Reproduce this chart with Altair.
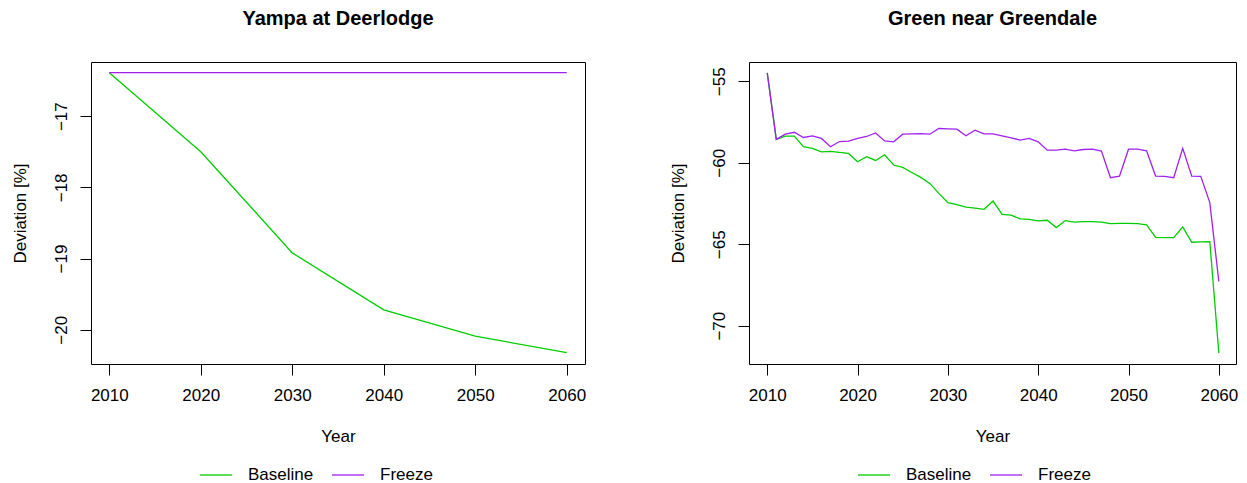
import altair as alt
import pandas as pd

FONT = "Liberation Sans"
GREEN = "#00CD00"
PURPLE = "#A020F0"

# ---- Left panel: Yampa at Deerlodge ----
left_years = [2010, 2020, 2030, 2040, 2050, 2060]
left_baseline = [-16.39, -17.50, -18.92, -19.72, -20.09, -20.32]
left_freeze = [-16.39, -16.39, -16.39, -16.39, -16.39, -16.39]

# ---- Right panel: Green near Greendale ----
right_years = list(range(2010, 2061))
right_baseline = [
    -54.49, -58.57, -58.37, -58.37, -59.02, -59.12, -59.33, -59.31, -59.37, -59.43,
    -59.94, -59.63, -59.86, -59.51, -60.14, -60.29, -60.60, -60.90, -61.27, -61.88,
    -62.45, -62.57, -62.72, -62.78, -62.86, -62.35, -63.17, -63.21, -63.45, -63.47,
    -63.57, -63.53, -63.98, -63.55, -63.65, -63.61, -63.61, -63.65, -63.74, -63.72,
    -63.72, -63.74, -63.82, -64.58, -64.60, -64.60, -63.94, -64.88, -64.86, -64.84,
    -71.68,
]
right_freeze = [
    -54.49, -58.57, -58.25, -58.13, -58.45, -58.35, -58.51, -59.02, -58.70, -58.68,
    -58.51, -58.39, -58.17, -58.66, -58.72, -58.25, -58.23, -58.21, -58.25, -57.90,
    -57.92, -57.94, -58.35, -58.00, -58.23, -58.23, -58.35, -58.47, -58.61, -58.51,
    -58.72, -59.23, -59.23, -59.17, -59.27, -59.19, -59.17, -59.29, -60.92, -60.82,
    -59.17, -59.17, -59.27, -60.82, -60.84, -60.92, -59.12, -60.82, -60.84, -62.45,
    -67.29,
]

series_names = ["Baseline", "Freeze"]
x_ticks = [2010, 2020, 2030, 2040, 2050, 2060]
left_yticks = [-17, -18, -19, -20]
right_yticks = [-55, -60, -65, -70]


def panel(years, base, freeze, title, xdomain, ydomain, yticks, width):
    df = pd.DataFrame({
        "Year": years + years,
        "Deviation": base + freeze,
        "Scenario": ["Baseline"] * len(years) + ["Freeze"] * len(years),
    })
    return alt.Chart(df).mark_line(strokeWidth=1.3).encode(
        x=alt.X("Year:Q",
                scale=alt.Scale(domain=xdomain, nice=False, zero=False),
                axis=alt.Axis(values=x_ticks, format="d", title="Year",
                              grid=False, domain=False, tickSize=11, tickColor="black",
                              labelFontSize=17, labelFont=FONT, labelColor="black",
                              labelPadding=12, titleFontSize=17, titleFont=FONT,
                              titleFontWeight="normal", titleColor="black",
                              titlePadding=25, labelFlush=False)),
        y=alt.Y("Deviation:Q",
                scale=alt.Scale(domain=ydomain, nice=False, zero=False),
                axis=alt.Axis(values=yticks, format="d", title="Deviation [%]",
                              grid=False, domain=False, tickSize=11, tickColor="black",
                              labelFontSize=17, labelFont=FONT, labelColor="black",
                              labelAngle=270, labelAlign="center", labelBaseline="alphabetic",
                              labelPadding=14, titleFontSize=17, titleFont=FONT,
                              titleFontWeight="normal", titleColor="black",
                              titlePadding=23, labelFlush=False)),
        color=alt.Color("Scenario:N",
                        scale=alt.Scale(domain=series_names, range=[GREEN, PURPLE]),
                        legend=alt.Legend(title=None, orient="none", legendX=108, legendY=396,
                                          direction="horizontal", symbolType="stroke",
                                          symbolSize=1024, symbolStrokeWidth=1.3,
                                          labelFontSize=17, labelFont=FONT, labelColor="black",
                                          labelOffset=15, columnPadding=15)),
    ).properties(
        width=width, height=302,
        title=alt.TitleParams(title, fontSize=20, font=FONT, fontWeight="bold",
                              color="black", anchor="middle", offset=33),
    )


left = panel(left_years, left_baseline, left_freeze, "Yampa at Deerlodge",
             [2008, 2062], [-20.48, -16.24], left_yticks, 494)
right = panel(right_years, right_baseline, right_freeze, "Green near Greendale",
              [2007.98, 2061.9], [-72.35, -53.82], right_yticks, 487)

chart = alt.hconcat(left, right, spacing=81).resolve_scale(color="independent").configure_view(
    stroke="black", strokeWidth=1
).properties(padding={"left": 2, "top": 0, "right": 0, "bottom": 0})

chart.save("out.html", embed_options={"renderer": "svg", "actions": False})
